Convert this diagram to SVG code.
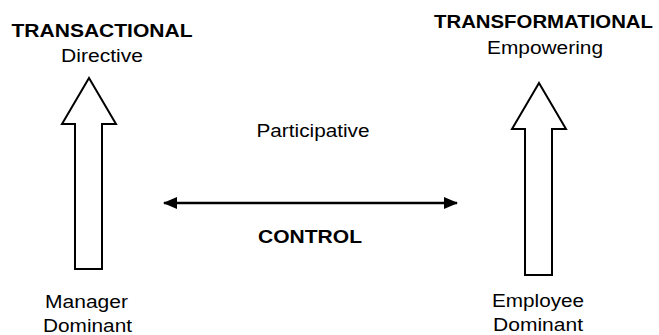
<svg xmlns="http://www.w3.org/2000/svg" width="659" height="335" viewBox="0 0 659 335">
<style>
.t{font-family:"Liberation Sans",Arial,sans-serif;font-size:18.7px;fill:#000;text-anchor:middle}
.b{font-weight:bold}
.blk{fill:#fff;stroke:#000;stroke-width:2;stroke-linejoin:miter}
.ln{stroke:#000;stroke-width:2.5;fill:none}
</style>
<defs>
<marker id="ah" viewBox="0 0 14 12" refX="13" refY="6" markerWidth="14" markerHeight="12" markerUnits="userSpaceOnUse" orient="auto-start-reverse">
<path d="M0,0 L14,6 L0,12 Z" fill="#000"/>
</marker>
</defs>
<rect width="659" height="335" fill="#fff"/>
<g id="transactional">
<polygon class="blk" points="89,78 116,124 102,124 102,269 75,269 75,124 62,124"/>
<text class="t b" x="102" y="36.5" textLength="181" lengthAdjust="spacingAndGlyphs">TRANSACTIONAL</text>
<text class="t" x="102" y="61.5" textLength="82" lengthAdjust="spacingAndGlyphs">Directive</text>
<text class="t" x="86.5" y="308" textLength="83" lengthAdjust="spacingAndGlyphs">Manager</text>
<text class="t" x="87.5" y="332" textLength="89" lengthAdjust="spacingAndGlyphs">Dominant</text>
</g>
<g id="transformational">
<polygon class="blk" points="539,83 566,129 552,129 552,275 525,275 525,129 512,129"/>
<text class="t b" x="543.5" y="27.5" textLength="219" lengthAdjust="spacingAndGlyphs">TRANSFORMATIONAL</text>
<text class="t" x="545" y="54" textLength="116" lengthAdjust="spacingAndGlyphs">Empowering</text>
<text class="t" x="538" y="307" textLength="92" lengthAdjust="spacingAndGlyphs">Employee</text>
<text class="t" x="538" y="331" textLength="90" lengthAdjust="spacingAndGlyphs">Dominant</text>
</g>
<g id="participative">
<text class="t" x="313" y="137" textLength="113" lengthAdjust="spacingAndGlyphs">Participative</text>
</g>
<g id="connectors">
<line class="ln" x1="164" y1="203" x2="457" y2="203" marker-start="url(#ah)" marker-end="url(#ah)"/>
<text class="t b" x="310" y="243" textLength="104" lengthAdjust="spacingAndGlyphs">CONTROL</text>
</g>
</svg>
